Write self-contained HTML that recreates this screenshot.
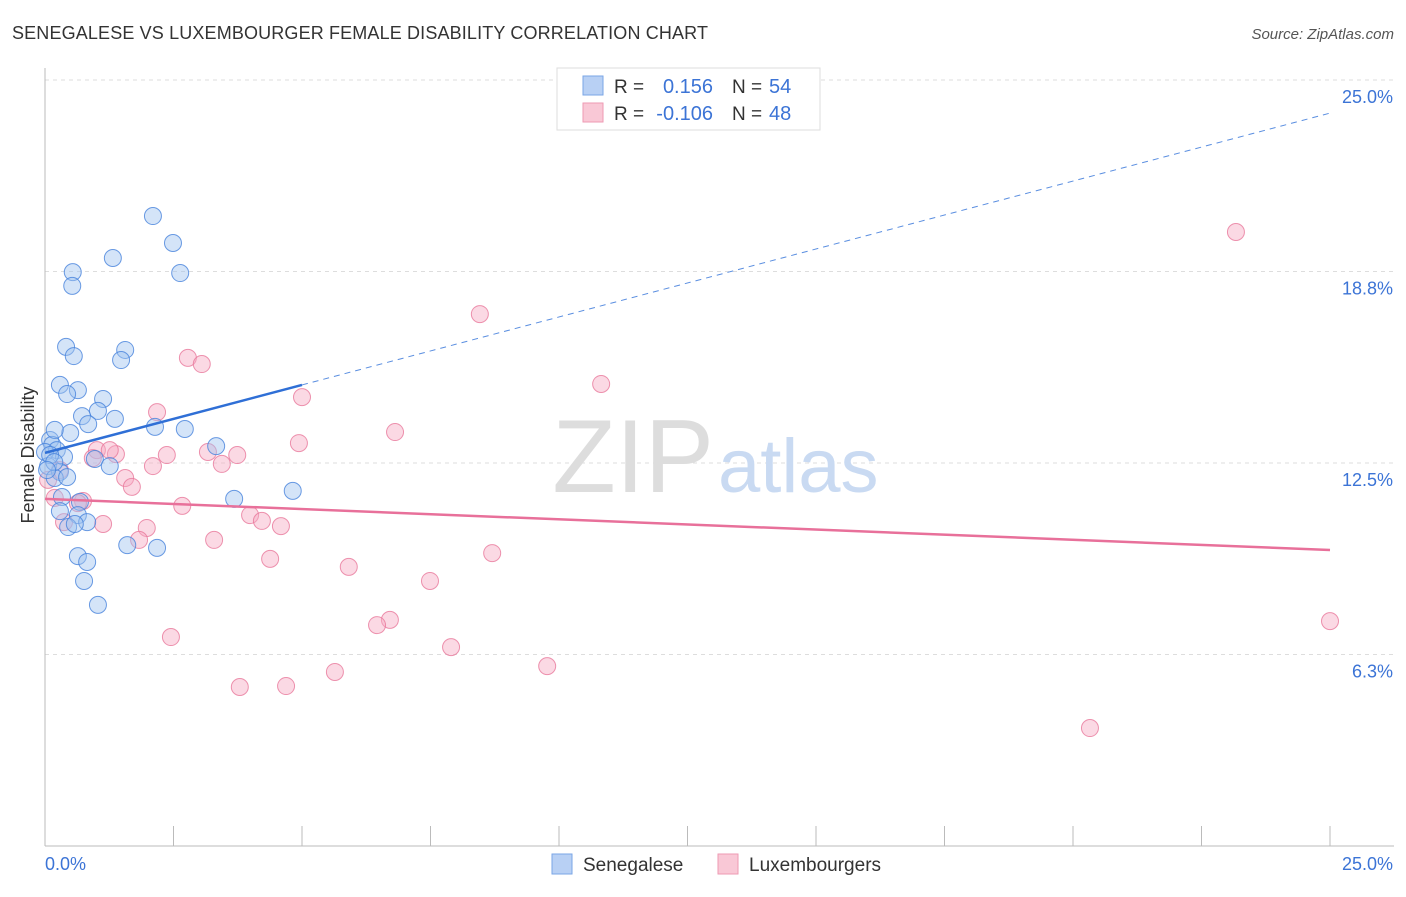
<!DOCTYPE html>
<html><head><meta charset="utf-8"><style>
body{margin:0;background:#fff;font-family:"Liberation Sans",sans-serif;}
svg text{font-family:"Liberation Sans",sans-serif;}
</style></head><body>
<svg id="chart" width="1406" height="892" xmlns="http://www.w3.org/2000/svg">
<text x="12" y="39" font-size="18" fill="#333" textLength="696">SENEGALESE VS LUXEMBOURGER FEMALE DISABILITY CORRELATION CHART</text>
<text x="1394" y="39" font-size="15" fill="#555" text-anchor="end" font-style="italic">Source: ZipAtlas.com</text>
<g id="grid"></g>
<text x="714" y="492" font-size="104" fill="#ddd" text-anchor="end" font-family="Liberation Serif">ZIP</text>
<text x="718" y="492" font-size="76" fill="#c9daf2">atlas</text>
<g id="axes"></g>
<g id="pts"></g>
<g id="lines"></g>
<text transform="translate(34,455) rotate(-90)" font-size="18" fill="#333" text-anchor="middle">Female Disability</text>
<g>
<rect x="557" y="68" width="263" height="62" fill="#fff" stroke="#ddd"/>
<rect x="583" y="76" width="20" height="19" fill="#b8d0f4" stroke="#7aa6e6"/>
<rect x="583" y="103" width="20" height="19" fill="#f9c8d6" stroke="#ee9ab3"/>
<text x="614" y="93" font-size="19" fill="#333">R =</text>
<text x="713" y="93" font-size="20" fill="#3c74d6" text-anchor="end">0.156</text>
<text x="732" y="93" font-size="19" fill="#333">N =</text><text x="769" y="93" font-size="20" fill="#3c74d6">54</text>
<text x="614" y="120" font-size="19" fill="#333">R =</text>
<text x="713" y="120" font-size="20" fill="#3c74d6" text-anchor="end">-0.106</text>
<text x="732" y="120" font-size="19" fill="#333">N =</text><text x="769" y="120" font-size="20" fill="#3c74d6">48</text>
</g>
<g>
<rect x="552" y="854" width="20" height="20" fill="#b8d0f4" stroke="#7aa6e6"/>
<text x="583" y="871" font-size="19" fill="#333">Senegalese</text>
<rect x="718" y="854" width="20" height="20" fill="#f9c8d6" stroke="#ee9ab3"/>
<text x="749" y="871" font-size="19" fill="#333">Luxembourgers</text>
</g>
</svg>
<script>
const yTicks=[6.25,12.5,18.75,25];
const yTickLabels=["6.3%","12.5%","18.8%","25.0%"];
const xTicks=[0,2.5,5,7.5,10,12.5,15,17.5,20,22.5,25];
const blueX=[2.10,2.49,1.32,0.54,2.63,0.53,0.41,1.56,0.56,1.48,0.29,0.64,0.43,1.13,1.03,0.72,1.36,0.84,2.14,2.72,0.49,3.33,0.10,0.14,0.23,0.0,0.37,0.97,1.26,0.06,0.29,0.19,0.43,3.68,4.82,0.33,0.68,0.64,0.29,0.82,0.45,0.58,1.60,2.18,0.64,0.82,0.76,1.03,0.10,0.18,0.04,0.19];
const blueY=[20.56,19.68,19.19,18.73,18.70,18.28,16.29,16.19,15.99,15.86,15.05,14.88,14.75,14.59,14.20,14.03,13.94,13.77,13.68,13.61,13.48,13.05,13.25,13.09,12.92,12.86,12.70,12.63,12.40,12.40,12.21,12.01,12.04,11.33,11.59,11.39,11.23,10.80,10.93,10.57,10.41,10.51,9.82,9.73,9.46,9.27,8.65,7.87,12.76,12.53,12.27,13.58];
const pinkX=[23.17,8.46,2.78,3.05,10.82,5.00,2.18,6.81,4.94,1.01,1.38,2.37,3.17,3.74,3.44,2.10,1.56,1.69,0.74,0.19,2.67,3.99,4.22,4.59,1.13,1.98,0.37,1.83,3.29,4.38,8.70,5.91,7.49,6.71,6.46,25.0,2.45,7.90,9.77,5.64,3.79,4.69,20.33,0.64,0.29,0.06,0.93,1.26];
const pinkY=[20.04,17.36,15.93,15.73,15.08,14.65,14.16,13.51,13.15,12.92,12.79,12.76,12.86,12.76,12.47,12.40,12.01,11.72,11.26,11.36,11.10,10.80,10.61,10.44,10.51,10.38,10.57,9.99,9.99,9.37,9.56,9.11,8.65,7.38,7.21,7.34,6.82,6.49,5.87,5.68,5.19,5.22,3.85,11.19,12.27,11.95,12.66,12.92];
const blueTrend=[12.83,23.92], blueSolidEnd=5.0;
const pinkTrend=[11.33,9.66];
const X=v=>45+v/25*1285, Y=v=>846-v/25*766;
const NS="http://www.w3.org/2000/svg";
function mk(tag,attrs,parent){const e=document.createElementNS(NS,tag);for(const k in attrs)e.setAttribute(k,attrs[k]);document.getElementById(parent).appendChild(e);return e;}
yTicks.forEach((t,i)=>{
 const g=mk('line',{x1:45,x2:1394,y1:Y(t),y2:Y(t),stroke:'#ddd','stroke-dasharray':'4,4'},'grid');
 
 
 const l=mk('text',{x:1393,y:Y(t)+23,'font-size':18,fill:'#3c74d6','text-anchor':'end'},'grid');
 l.textContent=yTickLabels[i];
 
 
});
const ax=mk('line',{x1:45,x2:45,y1:68,y2:846,stroke:'#bbb'},'axes');


const bx=mk('line',{x1:45,x2:1394,y1:846,y2:846,stroke:'#bbb'},'axes');


xTicks.forEach(t=>{
 const tk=mk('line',{x1:X(t),x2:X(t),y1:826,y2:846,stroke:'#bbb'},'axes');
 
 
});
const x0=mk('text',{x:45,y:870,'font-size':18,fill:'#3c74d6'},'axes');x0.textContent='0.0%';


const x1=mk('text',{x:1393,y:870,'font-size':18,fill:'#3c74d6','text-anchor':'end'},'axes');x1.textContent='25.0%';


pinkX.forEach((v,i)=>{
 const c=mk('circle',{cx:X(v),cy:Y(pinkY[i]),r:8.5,fill:'rgba(246,170,195,0.45)',stroke:'rgba(232,120,155,0.8)','stroke-width':1},'pts');
 
 
});
blueX.forEach((v,i)=>{
 const c=mk('circle',{cx:X(v),cy:Y(blueY[i]),r:8.5,fill:'rgba(160,195,240,0.45)',stroke:'rgba(70,130,220,0.8)','stroke-width':1},'pts');
 
 
});
const bAt=x=>blueTrend[0]+(blueTrend[1]-blueTrend[0])*x/25;
const bs=mk('line',{x1:X(0),y1:Y(bAt(0)),x2:X(blueSolidEnd),y2:Y(bAt(blueSolidEnd)),stroke:'#2f6fd6','stroke-width':2.5},'lines');


const bd=mk('line',{x1:X(blueSolidEnd),y1:Y(bAt(blueSolidEnd)),x2:X(25),y2:Y(bAt(25)),stroke:'#5a8ee0','stroke-width':1,'stroke-dasharray':'6,5'},'lines');


const pl=mk('line',{x1:X(0),y1:Y(pinkTrend[0]),x2:X(25),y2:Y(pinkTrend[1]),stroke:'#e8709a','stroke-width':2.5},'lines');


</script>
</body></html>
